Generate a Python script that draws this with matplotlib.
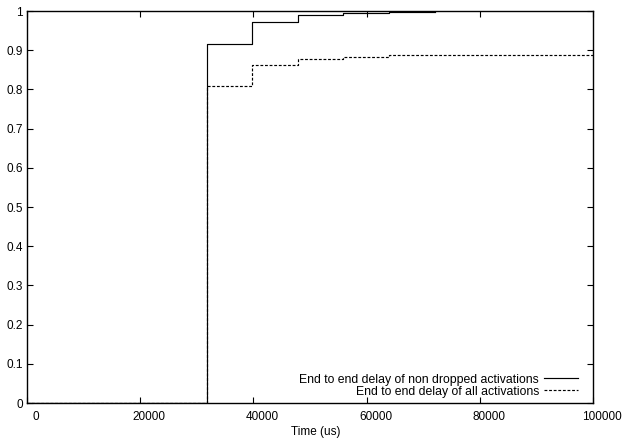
import matplotlib
matplotlib.use("Agg")
import matplotlib.pyplot as plt
import matplotlib.transforms as mtransforms

plt.rcParams['font.family'] = ['Liberation Sans', 'DejaVu Sans']

# step positions (us) and cumulative fractions
nd_time = [0, 31800, 39800, 47800, 55900, 63900, 72100]
nd_frac = [0.0, 0.916, 0.973, 0.990, 0.995, 0.997, 0.997]
all_time = [0, 31800, 39800, 47800, 55900, 63900, 100000]
all_frac = [0.0, 0.810, 0.862, 0.878, 0.883, 0.887, 0.887]

xticks = [0, 20000, 40000, 60000, 80000, 100000]
yticks = [0, 0.1, 0.2, 0.3, 0.4, 0.5, 0.6, 0.7, 0.8, 0.9, 1]

fig = plt.figure(figsize=(6.25, 4.42), dpi=100)
ax = fig.add_axes([0.0432, 0.0882, 0.9056, 0.8868])

ax.plot(nd_time, nd_frac, drawstyle='steps-post', color='black', lw=0.85,
        label="End to end delay of non dropped activations")
ax.plot(all_time, all_frac, drawstyle='steps-post', color='black', lw=0.85,
        dashes=(2.4, 1.5), label="End to end delay of all activations")

ax.set_xlim(0, 100000)
ax.set_ylim(0, 1)
ax.set_xticks(xticks)
ax.set_xticklabels([str(t) for t in xticks])
ax.set_yticks(yticks)
ax.set_yticklabels(["0", "0.1", "0.2", "0.3", "0.4", "0.5", "0.6", "0.7", "0.8", "0.9", "1"])
ax.tick_params(direction='in', length=4, width=0.8, labelsize=8.5,
               top=True, right=True)
ax.tick_params(axis='x', pad=6)
ax.tick_params(axis='y', pad=3)
for s in ax.spines.values():
    s.set_linewidth(1)

# gnuplot-like: x tick labels sit a bit right of their ticks
shift = mtransforms.ScaledTranslation(0.09, 0, fig.dpi_scale_trans)
for lab in ax.get_xticklabels():
    lab.set_transform(lab.get_transform() + shift)

ax.set_xlabel("Time (us)", fontsize=8.5)
ax.xaxis.set_label_coords(0.511, -0.058)

leg = ax.legend(loc='lower right', bbox_to_anchor=(0.9735, 0.014),
                frameon=False, markerfirst=False, fontsize=8.8,
                handlelength=2.8, handletextpad=0.4, labelspacing=0.0,
                borderpad=0, borderaxespad=0)

fig.savefig("out.png", dpi=100)
